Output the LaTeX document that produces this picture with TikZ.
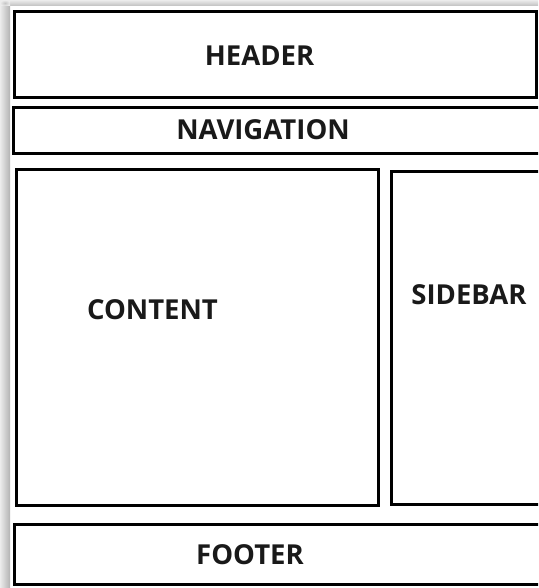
\documentclass[tikz,border=0pt]{standalone}
\usepackage{fontspec}
\setmainfont{Open Sans}
\usetikzlibrary{positioning}
\begin{document}
\begin{tikzpicture}[x=1pt,y=-1pt,
  box/.style={draw=black,line width=3pt,fill=white,rectangle,inner sep=0pt},
  lbl/.style={font=\fontsize{27.5}{27.5}\selectfont\bfseries,text=black!90,inner sep=0pt,anchor=center}]
\useasboundingbox (0,0) rectangle (538,588);
\clip (0,0) rectangle (538,588);
\fill[white] (0,0) rectangle (538,588);
% shadow bands
\shade[left color=gray!15,right color=gray!60] (0,0) rectangle (10,588);
\shade[top color=gray!15,bottom color=gray!50] (10,0) rectangle (538,6);
\shade[inner color=gray!45,outer color=gray!15] (0,0) rectangle (10,6);
% boxes
\node[box,minimum width=522pt,minimum height=86pt] (header) at (275,55) {};
\node[box,minimum width=532pt,minimum height=46pt] (nav) at (279,131) {};
\node[box,minimum width=362pt,minimum height=336pt] (content) at (197,337) {};
\node[box,minimum width=154pt,minimum height=333pt] (sidebar) at (468,337.5) {};
\node[box,minimum width=531pt,minimum height=60pt] (footer) at (279.5,554) {};
% labels
\node[lbl] (headerlbl) at (259.5,56) {HEADER};
\node[lbl] (navlbl) at (263,130) {NAVIGATION};
\node[lbl] (contentlbl) at (152.5,310) {CONTENT};
\node[lbl] (sidebarlbl) at (469,295) {SIDEBAR};
\node[lbl] (footerlbl) at (250,555) {FOOTER};
\end{tikzpicture}
\end{document}
